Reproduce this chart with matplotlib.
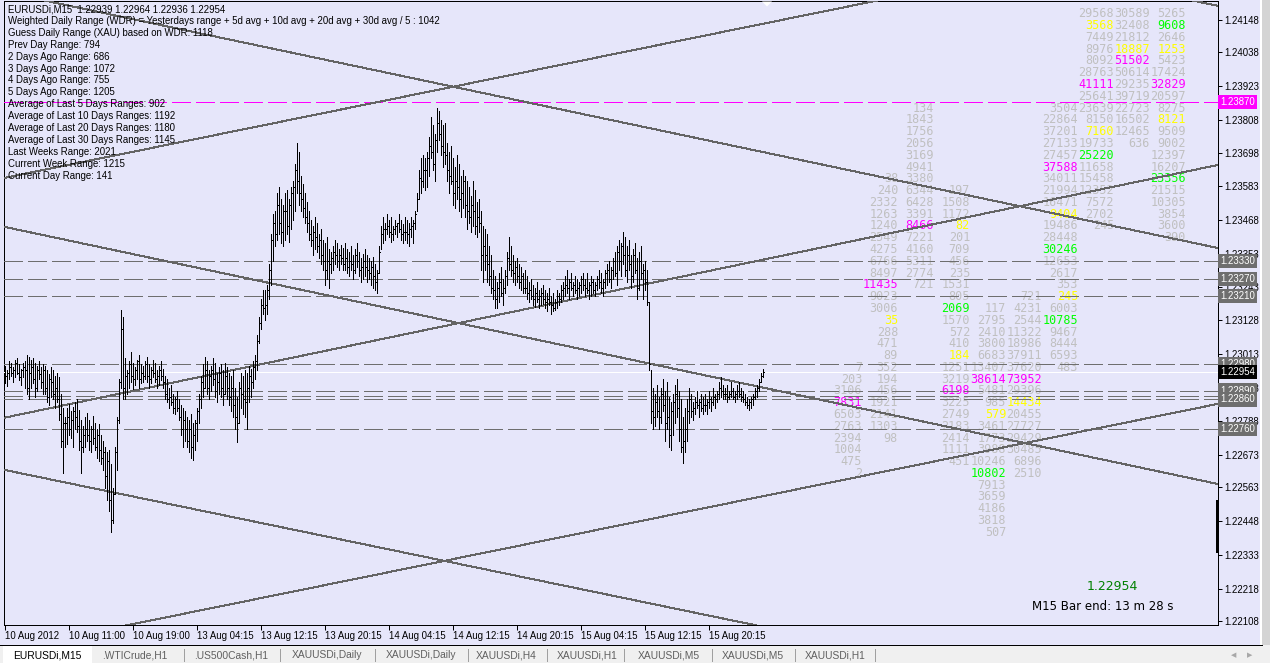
import matplotlib
matplotlib.use('Agg')
import matplotlib.pyplot as plt
from matplotlib import font_manager
from matplotlib.patches import Rectangle, Polygon
from matplotlib.transforms import blended_transform_factory

plt.rcParams['lines.scale_dashes'] = False

# ---- data ----
symbol_info = 'EURUSDi,M15  1.22939 1.22964 1.22936 1.22954'
info_lines = [
    'Weighted Daily Range (WDR) = Yesterdays range + 5d avg + 10d avg + 20d avg + 30d avg / 5 : 1042',
    'Guess Daily Range (XAU) based on WDR: 1118',
    'Prev Day Range: 794',
    '2 Days Ago Range: 686',
    '3 Days Ago Range: 1072',
    '4 Days Ago Range: 755',
    '5 Days Ago Range: 1205',
    'Average of Last 5 Days Ranges: 902',
    'Average of Last 10 Days Ranges: 1192',
    'Average of Last 20 Days Ranges: 1180',
    'Average of Last 30 Days Ranges: 1145',
    'Last Weeks Range: 2021',
    'Current Week Range: 1215',
    'Current Day Range: 141',
]

# M15 bars, price = 1 + points * 1e-5
highs = [
    22975, 22960, 22990, 22985, 22970, 22995, 23000, 22980, 22965, 22985,
    22990, 23010, 23005, 22995, 23000, 22985, 22975, 22990, 22970, 22980,
    22975, 22960, 22945, 22970, 22960, 22940, 22950, 22935, 22880, 22830,
    22800, 22830, 22845, 22820, 22835, 22850, 22860, 22825, 22790, 22770,
    22800, 22815, 22790, 22770, 22805, 22780, 22760, 22775, 22740, 22720,
    22700, 22680, 22690, 22640, 22560, 22700, 22800, 22930, 23165, 23140,
    23000, 22960, 22990, 23020, 22985, 22970, 22995, 23010, 22980, 22975,
    22990, 23005, 22980, 22970, 22995, 22985, 22960, 22975, 22990, 22965,
    22940, 22930, 22900, 22910, 22880, 22870, 22890, 22860, 22840, 22830,
    22820, 22800, 22790, 22810, 22780, 22790, 22830, 22880, 22940, 22980,
    23005, 22990, 22960, 22975, 23000, 22985, 22950, 22970, 22980, 22960,
    22985, 22970, 22950, 22940, 22960, 22900, 22870, 22920, 22950, 22940,
    22960, 22950, 22975, 22965, 22990, 23010, 23080, 23140, 23200, 23230,
    23230, 23250, 23320, 23420, 23490, 23500, 23560, 23580, 23540, 23520,
    23560, 23570, 23540, 23580, 23600, 23660, 23730, 23700, 23620, 23590,
    23560, 23530, 23500, 23470, 23450, 23480, 23460, 23420, 23440, 23400,
    23390, 23410, 23370, 23360, 23380, 23400, 23390, 23370, 23385, 23375,
    23390, 23370, 23360, 23380, 23350, 23370, 23390, 23360, 23340, 23355,
    23370, 23350, 23340, 23330, 23345, 23320, 23300, 23380, 23450, 23480,
    23460, 23490, 23470, 23480, 23450, 23470, 23460, 23490, 23470, 23455,
    23480, 23470, 23460, 23480, 23470, 23500, 23560, 23640, 23680, 23690,
    23680, 23700, 23750, 23820, 23790, 23760, 23850, 23840, 23810, 23790,
    23800, 23730, 23700, 23720, 23680, 23650, 23690, 23660, 23620, 23640,
    23620, 23600, 23580, 23550, 23600, 23570, 23530, 23540, 23500, 23450,
    23440, 23420, 23380, 23350, 23300, 23280, 23260, 23290, 23310, 23270,
    23300, 23360, 23410, 23380, 23350, 23330, 23340, 23320, 23310, 23290,
    23300, 23280, 23260, 23270, 23250, 23240, 23260, 23230, 23240, 23250,
    23230, 23220, 23240, 23210, 23220, 23200, 23230, 23220, 23250, 23260,
    23280, 23300, 23270, 23290, 23260, 23280, 23270, 23260, 23280, 23290,
    23270, 23290, 23260, 23280, 23270, 23260, 23280, 23300, 23290, 23270,
    23300, 23320, 23330, 23310, 23340, 23360, 23380, 23400, 23390, 23430,
    23410, 23380, 23400, 23350, 23370, 23390, 23340, 23360, 23380, 23320,
    23330, 23300, 23190, 22960, 22900, 22880, 22910, 22870, 22900, 22930,
    22890, 22920, 22870, 22850, 22880, 22910, 22930, 22890, 22860, 22800,
    22830, 22860, 22900, 22880, 22850, 22870, 22890, 22860, 22880, 22870,
    22880, 22860, 22890, 22870, 22900, 22880, 22890, 22920, 22935, 22910,
    22900, 22910, 22890, 22920, 22900, 22890, 22910, 22920, 22900, 22890,
    22880, 22870, 22860, 22870, 22880, 22900, 22910, 22930, 22950, 22964,
]
lows = [
    22915, 22905, 22930, 22940, 22920, 22935, 22945, 22925, 22910, 22935,
    22900, 22880, 22860, 22900, 22915, 22870, 22890, 22930, 22900, 22880,
    22880, 22850, 22840, 22870, 22860, 22830, 22850, 22790, 22700, 22610,
    22700, 22710, 22740, 22730, 22700, 22760, 22750, 22690, 22610, 22680,
    22700, 22720, 22690, 22680, 22710, 22690, 22660, 22650, 22640, 22620,
    22560, 22520, 22480, 22410, 22440, 22540, 22620, 22780, 22900, 22860,
    22860, 22880, 22900, 22920, 22895, 22910, 22930, 22900, 22915, 22920,
    22930, 22920, 22900, 22915, 22935, 22920, 22900, 22910, 22925, 22900,
    22860, 22850, 22830, 22840, 22815, 22810, 22820, 22790, 22740, 22700,
    22720, 22700, 22680, 22660, 22655, 22690, 22720, 22780, 22830, 22870,
    22900, 22880, 22860, 22890, 22910, 22870, 22850, 22880, 22870, 22840,
    22880, 22860, 22840, 22820, 22800, 22760, 22715, 22780, 22830, 22810,
    22800, 22760, 22850, 22870, 22900, 22930, 22960, 23050, 23100, 23150,
    23130, 23150, 23200, 23250, 23330, 23380, 23400, 23420, 23390, 23380,
    23400, 23420, 23395, 23440, 23470, 23500, 23560, 23520, 23500, 23480,
    23460, 23430, 23400, 23380, 23350, 23370, 23360, 23340, 23320, 23300,
    23250, 23270, 23240, 23290, 23300, 23320, 23310, 23300, 23320, 23300,
    23300, 23290, 23280, 23300, 23270, 23290, 23310, 23280, 23260, 23270,
    23280, 23260, 23270, 23250, 23240, 23230, 23220, 23290, 23370, 23390,
    23400, 23420, 23410, 23395, 23400, 23420, 23410, 23430, 23400, 23390,
    23400, 23390, 23380, 23410, 23390, 23440, 23500, 23540, 23560, 23580,
    23570, 23580, 23620, 23680, 23640, 23600, 23700, 23740, 23690, 23650,
    23660, 23600, 23560, 23590, 23520, 23510, 23540, 23500, 23480, 23510,
    23480, 23440, 23460, 23430, 23450, 23420, 23410, 23430, 23300, 23260,
    23300, 23260, 23250, 23220, 23200, 23170, 23170, 23190, 23210, 23180,
    23220, 23250, 23300, 23280, 23260, 23250, 23260, 23240, 23230, 23220,
    23220, 23200, 23190, 23200, 23180, 23175, 23190, 23170, 23180, 23185,
    23170, 23160, 23180, 23150, 23160, 23165, 23170, 23180, 23190, 23200,
    23210, 23220, 23200, 23230, 23210, 23220, 23200, 23210, 23220, 23230,
    23210, 23220, 23200, 23210, 23220, 23210, 23230, 23240, 23220, 23210,
    23240, 23250, 23260, 23240, 23270, 23280, 23250, 23300, 23280, 23320,
    23280, 23260, 23300, 23240, 23260, 23290, 23200, 23230, 23270, 23200,
    23230, 23180, 22960, 22780, 22760, 22770, 22800, 22760, 22780, 22820,
    22720, 22760, 22700, 22690, 22740, 22780, 22800, 22720, 22680, 22645,
    22680, 22720, 22780, 22800, 22790, 22810, 22830, 22800, 22820, 22810,
    22820, 22810, 22830, 22820, 22840, 22830, 22850, 22860, 22870, 22860,
    22860, 22850, 22860, 22870, 22860, 22850, 22860, 22870, 22855, 22850,
    22840, 22830, 22825, 22830, 22840, 22860, 22870, 22890, 22920, 22936,
]
closes = [
    22940, 22950, 22970, 22950, 22960, 22985, 22950, 22935, 22960, 22970,
    22960, 22900, 22950, 22970, 22930, 22900, 22960, 22945, 22920, 22960,
    22900, 22870, 22930, 22920, 22880, 22900, 22860, 22810, 22720, 22780,
    22780, 22800, 22760, 22790, 22820, 22800, 22770, 22720, 22700, 22740,
    22760, 22740, 22720, 22760, 22730, 22700, 22740, 22690, 22660, 22680,
    22600, 22650, 22520, 22450, 22540, 22680, 22790, 22920, 23100, 22900,
    22940, 22950, 22980, 22940, 22930, 22960, 22990, 22930, 22950, 22940,
    22980, 22940, 22930, 22960, 22950, 22930, 22940, 22960, 22940, 22920,
    22880, 22860, 22870, 22850, 22830, 22860, 22830, 22800, 22760, 22790,
    22760, 22720, 22760, 22700, 22740, 22780, 22820, 22860, 22920, 22900,
    22960, 22900, 22940, 22960, 22930, 22890, 22920, 22950, 22900, 22880,
    22940, 22900, 22870, 22900, 22840, 22800, 22780, 22900, 22880, 22860,
    22850, 22900, 22940, 22920, 22970, 22990, 23060, 23120, 23180, 23170,
    23180, 23230, 23300, 23400, 23460, 23420, 23520, 23460, 23430, 23500,
    23500, 23450, 23520, 23560, 23580, 23640, 23600, 23560, 23540, 23510,
    23480, 23460, 23420, 23400, 23430, 23410, 23380, 23400, 23350, 23330,
    23300, 23330, 23320, 23340, 23360, 23350, 23330, 23350, 23340, 23320,
    23340, 23310, 23330, 23320, 23300, 23350, 23330, 23300, 23310, 23330,
    23310, 23300, 23290, 23310, 23280, 23260, 23290, 23360, 23420, 23440,
    23440, 23450, 23430, 23420, 23440, 23450, 23460, 23440, 23420, 23430,
    23430, 23420, 23440, 23450, 23460, 23490, 23540, 23610, 23600, 23640,
    23640, 23680, 23720, 23700, 23660, 23740, 23800, 23760, 23720, 23700,
    23690, 23640, 23620, 23600, 23560, 23600, 23580, 23540, 23560, 23600,
    23520, 23500, 23480, 23520, 23500, 23450, 23480, 23460, 23350, 23380,
    23350, 23320, 23280, 23240, 23230, 23200, 23240, 23260, 23220, 23240,
    23280, 23340, 23320, 23300, 23290, 23310, 23280, 23260, 23280, 23240,
    23240, 23220, 23230, 23210, 23200, 23220, 23200, 23210, 23220, 23200,
    23190, 23200, 23190, 23180, 23170, 23190, 23210, 23200, 23230, 23240,
    23250, 23240, 23260, 23240, 23250, 23230, 23240, 23250, 23270, 23250,
    23240, 23230, 23250, 23260, 23230, 23250, 23270, 23260, 23240, 23260,
    23290, 23300, 23270, 23300, 23330, 23290, 23360, 23330, 23380, 23350,
    23300, 23350, 23320, 23280, 23350, 23300, 23240, 23330, 23290, 23300,
    23260, 23190, 22980, 22820, 22800, 22850, 22820, 22800, 22880, 22840,
    22780, 22800, 22740, 22820, 22850, 22880, 22830, 22760, 22700, 22720,
    22760, 22820, 22860, 22820, 22830, 22850, 22840, 22850, 22830, 22840,
    22840, 22850, 22860, 22850, 22870, 22860, 22880, 22900, 22890, 22880,
    22880, 22870, 22880, 22890, 22870, 22880, 22890, 22880, 22870, 22860,
    22850, 22840, 22850, 22860, 22870, 22890, 22900, 22920, 22940, 22954,
]

time_bars = [0, 32, 64, 96, 128, 160, 192, 224, 256, 288, 320, 352]
time_labels = ['10 Aug 2012', '10 Aug 11:00', '10 Aug 19:00', '13 Aug 04:15',
               '13 Aug 12:15', '13 Aug 20:15', '14 Aug 04:15', '14 Aug 12:15',
               '14 Aug 20:15', '15 Aug 04:15', '15 Aug 12:15', '15 Aug 20:15']

price_ticks = [1.24148, 1.24038, 1.23923, 1.23808, 1.23698, 1.23583, 1.23468,
               1.23353, 1.23243, 1.23128, 1.23013, 1.22898, 1.22788, 1.22673,
               1.22563, 1.22448, 1.22333, 1.22218, 1.22108]

level_lines = [1.23330, 1.23270, 1.23210, 1.22980, 1.22890, 1.22873, 1.22860, 1.22760]
level_labels = [1.23330, 1.23270, 1.23210, 1.22980, 1.22890, 1.22860, 1.22760]
pivot_level = 1.23870
last_price = 1.22954

# channel lines, price at the left and right edge of the window
trend_x = [-2.5, 606.5]
trend_start = [1.25065, 1.24246, 1.23449, 1.22624, 1.23609, 1.22795, 1.22006]
trend_end = [1.24196, 1.23374, 1.22573, 1.21769, 1.24449, 1.23656, 1.22845]

# price profile: (row, column, value, colour tag); row 0 is at profile_top
profile_top = 1.24174
profile_step = 0.0004
profile = [
    (0, 7, 29568, 's'), (0, 8, 30589, 's'), (0, 9, 5265, 's'),
    (1, 7, 3568, 'y'), (1, 8, 32408, 's'), (1, 9, 9608, 'g'),
    (2, 7, 7449, 's'), (2, 8, 21812, 's'), (2, 9, 2646, 's'),
    (3, 7, 8976, 's'), (3, 8, 18887, 'y'), (3, 9, 1253, 'y'),
    (4, 7, 8092, 's'), (4, 8, 51502, 'm'), (4, 9, 5423, 's'),
    (5, 7, 28763, 's'), (5, 8, 50614, 's'), (5, 9, 17424, 's'),
    (6, 7, 41111, 'm'), (6, 8, 29235, 's'), (6, 9, 32829, 'm'),
    (7, 7, 25641, 's'), (7, 8, 39719, 's'), (7, 9, 20597, 's'),
    (8, 2, 134, 's'), (8, 6, 3504, 's'), (8, 7, 23639, 's'), (8, 8, 22723, 's'), (8, 9, 8275, 's'),
    (9, 2, 1843, 's'), (9, 6, 22864, 's'), (9, 7, 8150, 's'), (9, 8, 16502, 's'), (9, 9, 8121, 'y'),
    (10, 2, 1756, 's'), (10, 6, 37201, 's'), (10, 7, 7160, 'y'), (10, 8, 12465, 's'), (10, 9, 9509, 's'),
    (11, 2, 2056, 's'), (11, 6, 27133, 's'), (11, 7, 19733, 's'), (11, 8, 636, 's'), (11, 9, 9002, 's'),
    (12, 2, 3169, 's'), (12, 6, 27457, 's'), (12, 7, 25220, 'g'), (12, 9, 12397, 's'),
    (13, 2, 4941, 's'), (13, 6, 37588, 'm'), (13, 7, 11658, 's'), (13, 9, 16207, 's'),
    (14, 1, 38, 's'), (14, 2, 3380, 's'), (14, 6, 34011, 's'), (14, 7, 15458, 's'), (14, 9, 23356, 'g'),
    (15, 1, 240, 's'), (15, 2, 6344, 's'), (15, 3, 197, 's'), (15, 6, 21994, 's'), (15, 7, 12352, 's'), (15, 9, 21515, 's'),
    (16, 1, 2332, 's'), (16, 2, 6428, 's'), (16, 3, 1508, 's'), (16, 6, 16471, 's'), (16, 7, 7572, 's'), (16, 9, 10305, 's'),
    (17, 1, 1263, 's'), (17, 2, 3391, 's'), (17, 3, 1172, 's'), (17, 6, 9404, 'y'), (17, 7, 2702, 's'), (17, 9, 3854, 's'),
    (18, 1, 1240, 's'), (18, 2, 8466, 'm'), (18, 3, 82, 'y'), (18, 6, 19486, 's'), (18, 7, 245, 's'), (18, 9, 3600, 's'),
    (19, 1, 2549, 's'), (19, 2, 7221, 's'), (19, 3, 201, 's'), (19, 6, 28448, 's'), (19, 9, 390, 's'),
    (20, 1, 4275, 's'), (20, 2, 4160, 's'), (20, 3, 709, 's'), (20, 6, 30246, 'g'),
    (21, 1, 6766, 's'), (21, 2, 5311, 's'), (21, 3, 456, 's'), (21, 6, 12653, 's'),
    (22, 1, 8497, 's'), (22, 2, 2774, 's'), (22, 3, 235, 's'), (22, 6, 2617, 's'),
    (23, 1, 11435, 'm'), (23, 2, 721, 's'), (23, 3, 1531, 's'), (23, 6, 353, 's'),
    (24, 1, 9023, 's'), (24, 3, 805, 's'), (24, 5, 721, 's'), (24, 6, 245, 'y'),
    (25, 1, 3006, 's'), (25, 3, 2069, 'g'), (25, 4, 117, 's'), (25, 5, 4231, 's'), (25, 6, 6003, 's'),
    (26, 1, 35, 'y'), (26, 3, 1570, 's'), (26, 4, 2795, 's'), (26, 5, 2544, 's'), (26, 6, 10785, 'g'),
    (27, 1, 288, 's'), (27, 3, 572, 's'), (27, 4, 2410, 's'), (27, 5, 11322, 's'), (27, 6, 9467, 's'),
    (28, 1, 471, 's'), (28, 3, 410, 's'), (28, 4, 3800, 's'), (28, 5, 18986, 's'), (28, 6, 8444, 's'),
    (29, 1, 89, 's'), (29, 3, 184, 'y'), (29, 4, 6683, 's'), (29, 5, 37911, 's'), (29, 6, 6593, 's'),
    (30, 0, 7, 's'), (30, 1, 352, 's'), (30, 3, 1251, 's'), (30, 4, 13407, 's'), (30, 5, 37620, 's'), (30, 6, 483, 's'),
    (31, 0, 203, 's'), (31, 1, 194, 's'), (31, 3, 3219, 's'), (31, 4, 38614, 'm'), (31, 5, 73952, 'm'),
    (32, 0, 3106, 's'), (32, 1, 456, 's'), (32, 3, 6198, 'm'), (32, 4, 5481, 's'), (32, 5, 29396, 's'),
    (33, 0, 7831, 'm'), (33, 1, 1921, 's'), (33, 3, 3225, 's'), (33, 4, 985, 's'), (33, 5, 14434, 'y'),
    (34, 0, 6503, 's'), (34, 1, 2141, 's'), (34, 3, 2749, 's'), (34, 4, 579, 'y'), (34, 5, 20455, 's'),
    (35, 0, 2763, 's'), (35, 1, 1303, 's'), (35, 3, 2183, 's'), (35, 4, 3461, 's'), (35, 5, 27727, 's'),
    (36, 0, 2394, 's'), (36, 1, 98, 's'), (36, 3, 2414, 's'), (36, 4, 1773, 's'), (36, 5, 29429, 's'),
    (37, 0, 1004, 's'), (37, 3, 1111, 's'), (37, 4, 3988, 's'), (37, 5, 30485, 's'),
    (38, 0, 475, 's'), (38, 3, 451, 's'), (38, 4, 10246, 's'), (38, 5, 6896, 's'),
    (39, 0, 2, 's'), (39, 4, 10802, 'g'), (39, 5, 2510, 's'),
    (40, 4, 7913, 's'), (41, 4, 3659, 's'), (42, 4, 4186, 's'), (43, 4, 3818, 's'), (44, 4, 507, 's'),
]
tag_colors = {'s': '#C0C0C0', 'y': '#FFFF00', 'm': '#FF00FF', 'g': '#00FF00'}

tabs = ['EURUSDi,M15', '.WTICrude,H1', '.US500Cash,H1', 'XAUUSDi,Daily', 'XAUUSDi,Daily',
        'XAUUSDi,H4', 'XAUUSDi,H1', 'XAUUSDi,M5', 'XAUUSDi,M5', 'XAUUSDi,H1']

bar_timer = 'M15 Bar end: 13 m 28 s'

# ---- style ----
BG = '#E6E6FA'
PX = 0.72  # one pixel in points at dpi 100
names = {f.name for f in font_manager.fontManager.ttflist}
if 'Liberation Sans Narrow' in names:
    ui_font, ui_size = 'Liberation Sans Narrow', 8
else:
    ui_font, ui_size = 'Liberation Sans', 6.95

fig = plt.figure(figsize=(12.7, 6.63), dpi=100, facecolor=BG)
ax = fig.add_axes([4 / 1270, 38 / 663, 1214 / 1270, 624 / 663])
ax.set_facecolor(BG)
ax.set_xlim(-0.5, 606.5)
ax.set_ylim(1.220944, 1.242125)
for sp in ax.spines.values():
    sp.set_color('black')
    sp.set_linewidth(PX)

# bars
xs = list(range(len(highs)))
hi = [1 + v * 1e-5 for v in highs]
lo = [1 + v * 1e-5 for v in lows]
cl = [1 + v * 1e-5 for v in closes]
ax.vlines(xs, lo, hi, colors='black', lw=PX, antialiased=False, zorder=4)
ax.hlines(cl, xs, [x + 0.5 for x in xs], colors='black', lw=PX, antialiased=False, zorder=4)

# horizontal levels
for lvl in level_lines:
    ax.axhline(lvl, color='#6E6E6E', lw=PX, dashes=(13, 4.3), antialiased=False, zorder=3)
ax.axhline(pivot_level, color='#FF00FF', lw=PX, dashes=(13, 4.3), antialiased=False, zorder=3)
ax.axhline(last_price, color='white', lw=PX, antialiased=False, zorder=3)

# channel lines
for p0, p1 in zip(trend_start, trend_end):
    ax.plot(trend_x, [p0, p1], color='#646464', lw=PX, antialiased=False, zorder=3)

# price profile numbers
for row, col, val, tag in profile:
    ax.text(428.5 + 18 * col, profile_top - profile_step * row, str(val),
            ha='right', va='center_baseline', family='DejaVu Sans Mono', fontsize=8.5,
            color=tag_colors[tag], zorder=2)

# axes ticks
ax.yaxis.tick_right()
ax.set_yticks(price_ticks)
ax.set_yticklabels(['%.5f' % p for p in price_ticks])
ax.tick_params(axis='y', length=3, width=PX, pad=1.5, labelsize=ui_size, colors='black')
ax.set_xticks(time_bars)
ax.set_xticklabels(time_labels, ha='left')
ax.tick_params(axis='x', length=3.5, width=PX, pad=0.8, labelsize=ui_size, colors='black')
for lbl in ax.get_xticklabels() + ax.get_yticklabels():
    lbl.set_fontfamily(ui_font)

# price label boxes on the right scale
trans = blended_transform_factory(ax.transAxes, ax.transData)
box_specs = [(p, '#6E6E6E') for p in level_labels] + [(pivot_level, '#FF00FF'), (last_price, 'black')]
for p, fc in box_specs:
    ax.text(1.0016, p, '%.5f' % p, transform=trans, ha='left', va='center', color='white',
            fontsize=ui_size, family=ui_font, clip_on=False, zorder=6,
            bbox=dict(boxstyle='square,pad=0.22', fc=fc, ec='none'))

# ---- window overlay in pixel coordinates ----
ov = fig.add_axes([0, 0, 1, 1], zorder=10)
ov.set_xlim(0, 1270)
ov.set_ylim(663, 0)
ov.axis('off')
ov.patch.set_alpha(0)

for k, line in enumerate([symbol_info] + info_lines):
    ov.text(8, 9 + 11.9 * k, line, ha='left', va='center', fontsize=ui_size, family=ui_font, color='black')

ov.text(1112, 587, '%.5f' % last_price, ha='center', va='center', fontsize=9, color='#008000')
ov.text(1103, 607, bar_timer, ha='center', va='center', fontsize=8.5, color='black')

ov.add_patch(Polygon([[762, 1.5], [772, 1.5], [767, 6.5]], closed=True, fc='white', ec='none'))
ov.add_patch(Rectangle((1215.5, 500), 3.5, 53, fc='black', ec='none'))

# right window edge
ov.add_patch(Rectangle((1260, 0), 10, 645, fc='#D4D4D4', ec='none'))
ov.plot([1261, 1261], [0, 645], color='white', lw=PX * 2)

# tab bar
ov.add_patch(Rectangle((0, 645), 1270, 18, fc='#F0F0F0', ec='none'))
ov.plot([0, 1262], [645, 645], color='black', lw=PX)
ov.add_patch(Rectangle((3, 646), 89, 17, fc='white', ec='none'))
tab_x = [13, 102, 194, 292, 386, 476, 557, 638, 722, 805]
sep_x = [184, 280, 375, 468, 547, 624, 712, 795, 875]
for i, (tx, name) in enumerate(zip(tab_x, tabs)):
    ov.text(tx, 655, name, ha='left', va='center', fontsize=ui_size + 0.4, family=ui_font,
            color='black' if i == 0 else '#606060')
for sx in sep_x:
    ov.plot([sx, sx], [649, 661], color='#A0A0A0', lw=PX)
ov.text(1234, 655, '\u25c0', ha='center', va='center', fontsize=5, color='#A8A8A8')
ov.text(1250, 655, '\u25b6', ha='center', va='center', fontsize=5, color='#A8A8A8')

fig.savefig('out.png', dpi=100, facecolor=BG)
